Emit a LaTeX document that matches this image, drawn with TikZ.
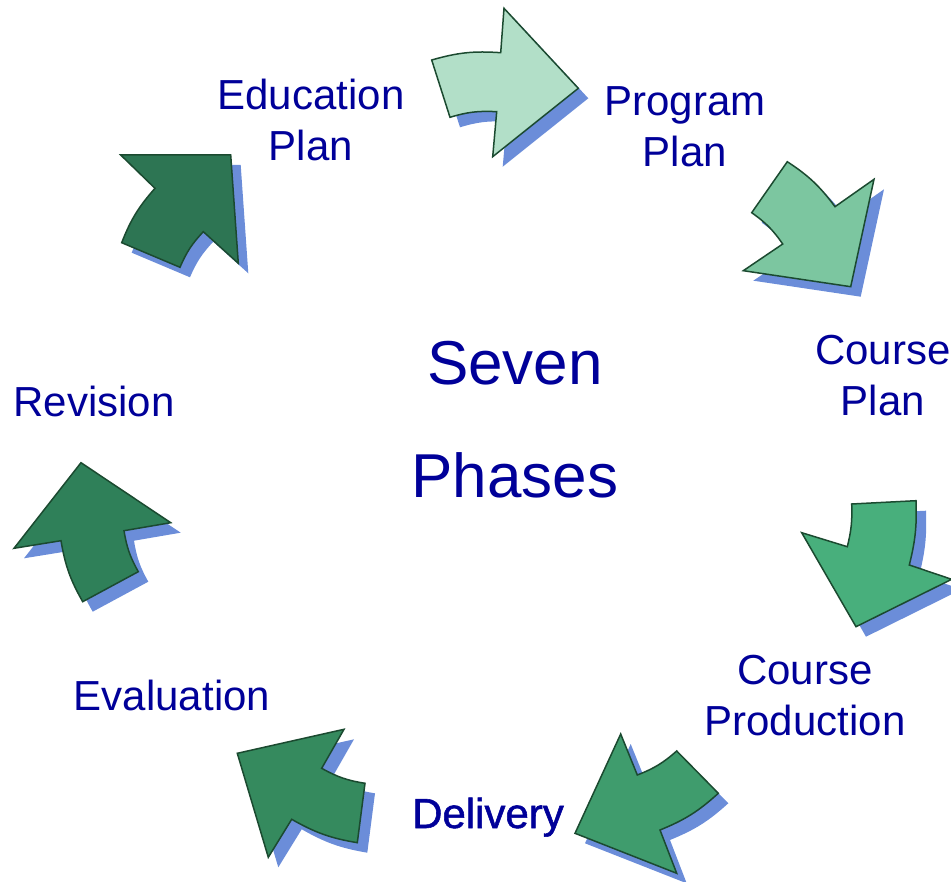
\documentclass[tikz,border=0pt]{standalone}
\usepackage{fontspec}
\setmainfont{Liberation Sans}
\newfontfamily\semibold[FakeBold=1.3]{Liberation Sans}
\definecolor{labelblue}{HTML}{000099}
\definecolor{shadowc}{HTML}{6B8DD9}
\definecolor{edgec}{HTML}{1B4A30}
\definecolor{gA}{HTML}{B2DFC8}
\definecolor{gB}{HTML}{7CC6A0}
\definecolor{gC}{HTML}{2D7553}
\definecolor{gD}{HTML}{48AF7C}
\definecolor{gE}{HTML}{3F9C6D}
\definecolor{gF}{HTML}{358A5E}
\definecolor{gG}{HTML}{2F8059}
\newcommand\shadowarrow[2]{%
  \fill[shadowc, shift={(10,-10)}] #2;
  \draw[arrowline, fill=#1] #2;}
\tikzset{
  arrowline/.style={draw=edgec, line width=1.5pt, line join=miter},
  lbl/.style={text=labelblue, inner sep=0pt, align=center, anchor=base,
    font=\fontsize{42}{51}\selectfont},
  title/.style={text=labelblue, inner sep=0pt, anchor=base,
    font=\fontsize{62}{62}\selectfont},
}
\begin{document}
\begin{tikzpicture}[x=1pt,y=1pt]
\useasboundingbox (0,0) rectangle (951,-882);
% arrows
\shadowarrow{gA}{(431.7,-60) to[bend left=10] (500.7,-52.7) -- (504,-8.3) -- (578.3,-88.3) -- (492.7,-156.7) -- (496.7,-111.7) to[bend right=10] (450,-117.3) -- cycle}
\shadowarrow{gB}{(787.3,-161.7) to[bend left=10] (835,-206.7) -- (874,-179.3) -- (850.7,-286.7) -- (743.3,-270.7) -- (782.7,-244) to[bend right=10] (751.7,-212.7) -- cycle}
\shadowarrow{gC}{(120.7,-155) -- (230.7,-155) -- (238.3,-263.3) -- (203.3,-231.7) to[bend right=10] (180,-267.3) -- (121.7,-242.7) to[bend left=10] (155,-188.3) -- cycle}
\shadowarrow{gD}{(847.3,-546.7) to[bend right=8] (851.7,-504) -- (916,-500.7) to[bend left=8] (909.3,-565) -- (951.7,-579.3) -- (856,-626.7) -- (801.7,-532.7) -- cycle}
\shadowarrow{gE}{(620.7,-734) -- (637.3,-775) to[bend right=10] (676.7,-751) -- (718.3,-793.3) to[bend left=10] (660,-830) -- (676.7,-873.3) -- (575,-833.3) -- cycle}
\shadowarrow{gF}{(237.3,-753.3) -- (344,-729.3) -- (321.7,-768.3) to[bend right=10] (365,-783.3) -- (357.3,-842.7) to[bend left=10] (291.7,-819.3) -- (268.3,-857.3) -- cycle}
\shadowarrow{gG}{(81,-462.7) -- (170.7,-522.7) -- (124,-530.7) to[bend right=10] (138.3,-571.7) -- (82.7,-601.7) to[bend left=10] (61,-540.7) -- (14,-548.3) -- cycle}
% labels
\node[lbl] (edu) at (311,-161) {Education\\Plan};
\node[lbl] (prog) at (685,-167) {Program\\Plan};
\node[lbl] (cplan) at (883,-416) {Course\\Plan};
\node[lbl] (cprod) at (805,-735) {Course\\Production};
\node[lbl, font=\fontsize{42}{51}\semibold] (deliv) at (488,-828) {Delivery};
\node[lbl] (eval) at (172,-710) {Evaluation};
\node[lbl] (rev) at (94,-417) {Revision};
\node[title] (seven) at (515,-385) {Seven};
\node[title] (phases) at (515,-497) {Phases};
\end{tikzpicture}
\end{document}
